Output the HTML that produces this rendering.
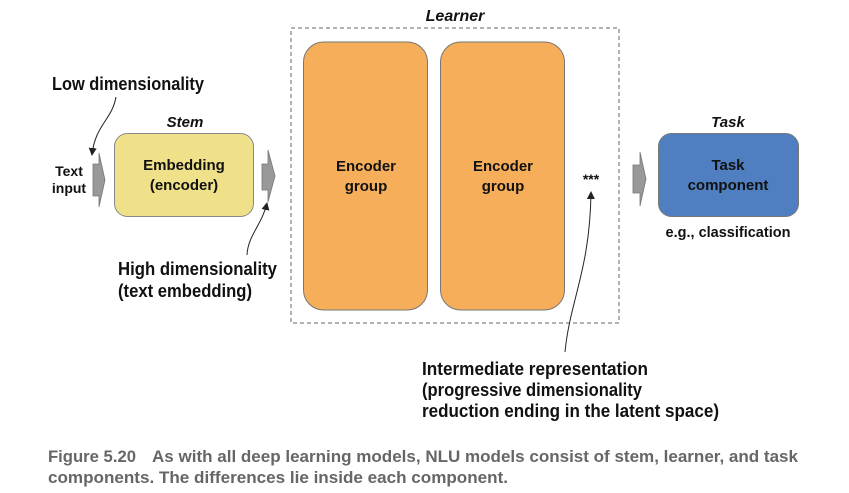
<!DOCTYPE html>
<html><head><meta charset="utf-8"><style>
html,body{margin:0;padding:0;background:#fff;}
svg{display:block;}
.a{font-family:"Liberation Sans",sans-serif;font-weight:bold;fill:#111;}
.h{font-family:"Liberation Sans",sans-serif;font-weight:bold;fill:#111;}
.c{font-family:"Liberation Sans",sans-serif;font-weight:bold;fill:#666;}
</style></head><body>
<svg width="849" height="493" viewBox="0 0 849 493" xmlns="http://www.w3.org/2000/svg">
<defs>
<marker id="ah" markerWidth="8" markerHeight="8" refX="7" refY="4" orient="auto" markerUnits="userSpaceOnUse">
<path d="M0,0 L8,4 L0,8 Z" fill="#222"/></marker>
</defs>
<rect x="291" y="28" width="328" height="295" fill="none" stroke="#666" stroke-width="1" stroke-dasharray="4,3"/>
<text x="455" y="21" text-anchor="middle" class="h" font-size="16" font-style="italic">Learner</text>
<rect x="303.5" y="42" width="124" height="268" rx="20" fill="#f6ae5a" stroke="#777" stroke-width="1"/>
<rect x="440.5" y="42" width="124" height="268" rx="20" fill="#f6ae5a" stroke="#777" stroke-width="1"/>
<text x="366" y="171" text-anchor="middle" class="h" font-size="15">Encoder</text>
<text x="366" y="191" text-anchor="middle" class="h" font-size="15">group</text>
<text x="503" y="171" text-anchor="middle" class="h" font-size="15">Encoder</text>
<text x="503" y="191" text-anchor="middle" class="h" font-size="15">group</text>
<text x="591" y="184" text-anchor="middle" class="h" font-size="14">***</text>
<text x="185" y="127" text-anchor="middle" class="h" font-size="15" font-style="italic">Stem</text>
<rect x="114.5" y="133.5" width="139" height="83" rx="13" fill="#efe08a" stroke="#888" stroke-width="1"/>
<text x="184" y="170" text-anchor="middle" class="h" font-size="15">Embedding</text>
<text x="184" y="190" text-anchor="middle" class="h" font-size="15">(encoder)</text>
<text x="728" y="127" text-anchor="middle" class="h" font-size="15" font-style="italic">Task</text>
<rect x="658.5" y="133.5" width="140" height="83" rx="13" fill="#4f7fc1" stroke="#777" stroke-width="1"/>
<text x="728" y="170" text-anchor="middle" class="h" font-size="15">Task</text>
<text x="728" y="190" text-anchor="middle" class="h" font-size="15">component</text>
<text x="728" y="237" text-anchor="middle" class="h" font-size="14.5">e.g., classification</text>
<path d="M93,164 L99,164 L99,153 L105,180 L99,207 L99,196 L93,196 Z" fill="#999" stroke="#777" stroke-width="0.8"/>
<path d="M262,164 L268,164 L268,150 L275,176 L268,202 L268,190 L262,190 Z" fill="#999" stroke="#777" stroke-width="0.8"/>
<path d="M633,165 L640,165 L640,152 L646,179 L640,206 L640,193 L633,193 Z" fill="#999" stroke="#777" stroke-width="0.8"/>
<text x="69" y="176" text-anchor="middle" class="h" font-size="14">Text</text>
<text x="69" y="193" text-anchor="middle" class="h" font-size="14">input</text>
<text x="52" y="90" class="a" font-size="18.5" textLength="152" lengthAdjust="spacingAndGlyphs">Low dimensionality</text>
<path d="M116,97 C112,120 95,125 92,155" fill="none" stroke="#222" stroke-width="1" marker-end="url(#ah)"/>
<text x="118" y="275" class="a" font-size="18.5" textLength="159" lengthAdjust="spacingAndGlyphs">High dimensionality</text>
<text x="118" y="297" class="a" font-size="18.5" textLength="134" lengthAdjust="spacingAndGlyphs">(text embedding)</text>
<path d="M247,255 C248,235 262,225 267,203" fill="none" stroke="#222" stroke-width="1" marker-end="url(#ah)"/>
<path d="M565,352 C570,300 590,270 591,192" fill="none" stroke="#222" stroke-width="1" marker-end="url(#ah)"/>
<text x="422" y="375" class="a" font-size="18.5" textLength="226" lengthAdjust="spacingAndGlyphs">Intermediate representation</text>
<text x="422" y="396" class="a" font-size="18.5" textLength="220" lengthAdjust="spacingAndGlyphs">(progressive dimensionality</text>
<text x="422" y="417" class="a" font-size="18.5" textLength="297" lengthAdjust="spacingAndGlyphs">reduction ending in the latent space)</text>
<text x="48" y="462" class="c" font-size="16.5" textLength="88" lengthAdjust="spacingAndGlyphs">Figure 5.20</text>
<text x="152" y="462" class="c" font-size="16.5" textLength="646" lengthAdjust="spacingAndGlyphs">As with all deep learning models, NLU models consist of stem, learner, and task</text>
<text x="48" y="483" class="c" font-size="16.5" textLength="460" lengthAdjust="spacingAndGlyphs">components. The differences lie inside each component.</text>
</svg>
</body></html>
